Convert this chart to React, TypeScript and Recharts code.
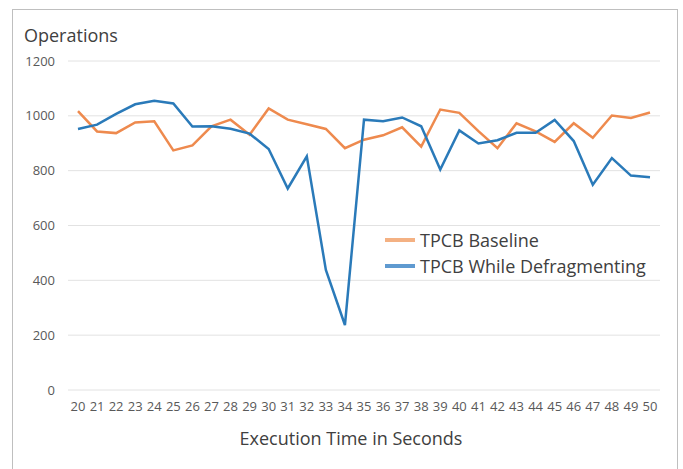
import React from 'react';
import { LineChart, Line, XAxis, YAxis, CartesianGrid } from 'recharts';

const seconds = ['20','21','22','23','24','25','26','27','28','29','30','31','32','33','34','35','36','37','38','39','40','41','42','43','44','45','46','47','48','49','50'];
const baseline = [1017, 943, 937, 976, 980, 874, 892, 962, 986, 931, 1027, 986, 969, 952, 882, 913, 929, 958, 888, 1023, 1011, 944, 882, 973, 943, 905, 973, 920, 1001, 992, 1012];
const defragmenting = [952, 968, 1007, 1042, 1055, 1045, 961, 962, 953, 935, 879, 735, 852, 438, 237, 986, 980, 994, 962, 804, 947, 899, 911, 938, 938, 985, 908, 749, 846, 782, 776];
const yTicks = [0, 200, 400, 600, 800, 1000, 1200];

const seriesNames = ['TPCB Baseline', 'TPCB While Defragmenting'];
const lineColors = ['#EE8A4E', '#2A7AB9'];
const legendColors = ['#F4B183', '#5F9AD0'];

const data = seconds.map((s, i) => ({ t: s, base: baseline[i], defrag: defragmenting[i] }));

const FONT = '"Open Sans", "Noto Sans", sans-serif';

export default function App() {
  return (
    <div style={{ position: 'absolute', left: 0, top: 0, width: 683, height: 469, overflow: 'hidden', background: '#fff' }}>
      <div style={{ position: 'absolute', left: 12, top: 9, width: 666, height: 480, border: '1px solid #bfbfbf', boxSizing: 'border-box' }} />
      <div style={{ position: 'absolute', left: 24, top: 22, fontFamily: FONT, fontSize: 18, lineHeight: '26px', color: '#404040', whiteSpace: 'nowrap' }}>Operations</div>
      <div style={{ position: 'absolute', left: 0, width: 702, top: 425, textAlign: 'center', fontFamily: FONT, fontSize: 18, lineHeight: '26px', color: '#404040', whiteSpace: 'nowrap' }}>Execution Time in Seconds</div>
      <div style={{ position: 'absolute', left: 0, top: 0 }}>
        <LineChart width={683} height={469} data={data} margin={{ top: 61, right: 23, bottom: 0, left: 0 }}>
          <CartesianGrid vertical={false} stroke="#e2e2e2" strokeWidth={1} />
          <XAxis dataKey="t" height={79} padding={{ left: 10, right: 10 }} axisLine={false} tickLine={false} tickSize={0} tickMargin={12} interval={0}
            tick={{ fontSize: 13, fill: '#595959', fontFamily: FONT }} />
          <YAxis width={68} domain={[0, 1200]} ticks={yTicks} axisLine={false} tickLine={false} tickSize={0} tickMargin={13}
            tick={{ fontSize: 13, fill: '#595959', fontFamily: FONT }} />
          <Line type="linear" dataKey="base" name={seriesNames[0]} stroke={lineColors[0]} strokeWidth={2.5} dot={false} isAnimationActive={false} />
          <Line type="linear" dataKey="defrag" name={seriesNames[1]} stroke={lineColors[1]} strokeWidth={2.5} dot={false} isAnimationActive={false} />
        </LineChart>
      </div>
      <div style={{ position: 'absolute', left: 385, top: 227, fontFamily: FONT, fontSize: 18, color: '#404040' }}>
        {seriesNames.map((n, i) => (
          <div key={n} style={{ display: 'flex', alignItems: 'center', height: 26 }}>
            <div style={{ width: 30, height: 4, background: legendColors[i], marginRight: 5 }} />
            <span style={{ whiteSpace: 'nowrap' }}>{n}</span>
          </div>
        ))}
      </div>
    </div>
  );
}
